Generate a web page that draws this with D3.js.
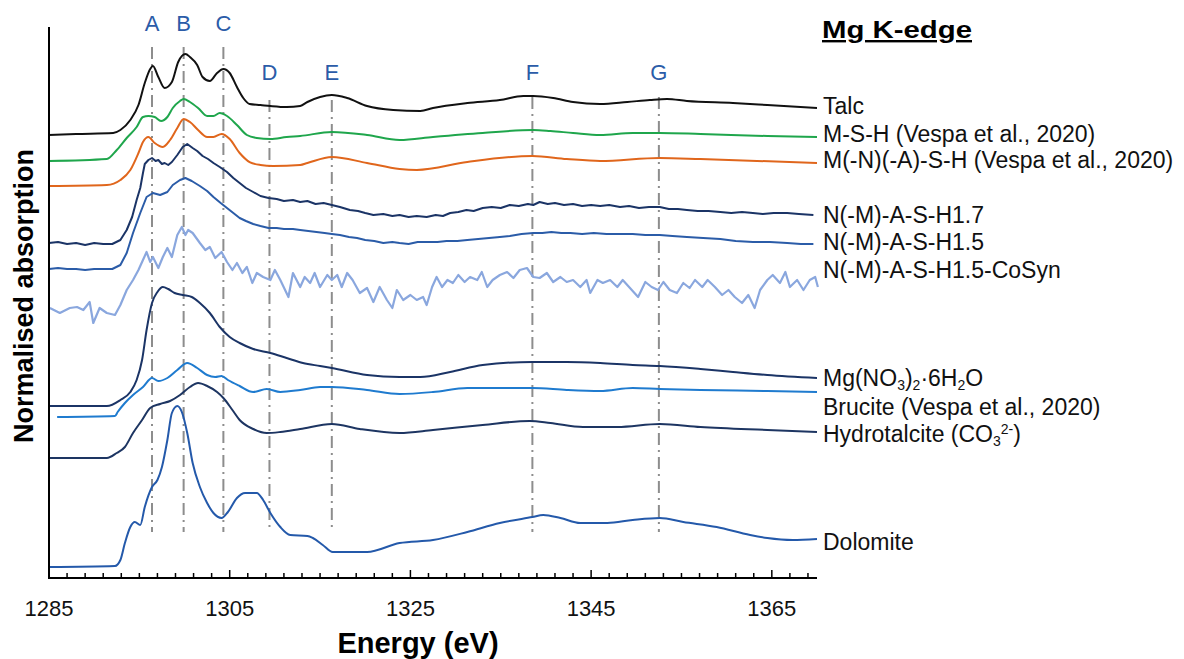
<!DOCTYPE html>
<html><head><meta charset="utf-8">
<script src="https://cdn.jsdelivr.net/npm/d3@7"></script>
<style>body{margin:0;background:#fff}</style>
</head><body>
<svg id="chart" width="1184" height="659"></svg>
<script>
// ---------- DATA (energy eV, normalised absorption incl. stacking offset) ----------
const seriesNames = ["Talc","M-S-H (Vespa et al., 2020)","M(-N)(-A)-S-H (Vespa et al., 2020)","N(-M)-A-S-H1.7","N(-M)-A-S-H1.5","N(-M)-A-S-H1.5-CoSyn","Mg(NO_3)_2·6H_2O","Brucite (Vespa et al., 2020)","Hydrotalcite (CO_3^{2-})","Dolomite"];

const talc = [[1285,4.43],[1288,4.44],[1292.1,4.45],[1292.9,4.48],[1294.0,4.58],[1294.9,4.73],[1295.6,4.95],[1296.2,5.09],[1296.5,5.12],[1297.1,5.01],[1297.8,4.90],[1298.6,4.96],[1299.3,5.16],[1300.1,5.24],[1300.6,5.21],[1301.4,5.13],[1302.0,5.01],[1302.8,4.97],[1303.6,5.05],[1304.3,5.09],[1305.0,5.05],[1305.8,4.91],[1306.5,4.80],[1307.2,4.74],[1308.4,4.73],[1309.5,4.72],[1311.3,4.71],[1312.8,4.72],[1313.6,4.76],[1315.0,4.81],[1316.3,4.83],[1318.0,4.80],[1320.2,4.72],[1323.1,4.68],[1326.1,4.67],[1327.5,4.70],[1331.3,4.75],[1334.9,4.78],[1337.5,4.82],[1338.6,4.82],[1340.8,4.80],[1343.0,4.76],[1346.0,4.74],[1349.0,4.76],[1351.5,4.78],[1353.4,4.79],[1355.6,4.77],[1360.7,4.75],[1364.5,4.73],[1370.0,4.70]];

const msh = [[1285,4.17],[1291.4,4.19],[1292.5,4.28],[1293.6,4.40],[1294.7,4.51],[1295.4,4.61],[1296.0,4.62],[1296.7,4.61],[1297.4,4.57],[1298.1,4.61],[1298.7,4.70],[1299.5,4.77],[1299.9,4.79],[1300.6,4.76],[1301.5,4.70],[1302.5,4.62],[1303.2,4.62],[1303.9,4.65],[1304.7,4.62],[1305.8,4.53],[1306.9,4.43],[1308.0,4.40],[1309.5,4.39],[1311.3,4.41],[1312.8,4.42],[1316.3,4.46],[1320.2,4.43],[1323.8,4.38],[1327.5,4.41],[1333.0,4.45],[1338.6,4.48],[1340.5,4.47],[1343.0,4.45],[1346.0,4.43],[1349.6,4.45],[1352.6,4.45],[1357.1,4.44],[1364.5,4.42],[1370.0,4.41]];

const mnash = [[1285,3.92],[1291.4,3.93],[1292.9,3.98],[1294.0,4.08],[1294.9,4.25],[1295.4,4.36],[1296.0,4.41],[1296.7,4.35],[1297.6,4.31],[1298.4,4.38],[1299.2,4.50],[1299.9,4.59],[1300.6,4.56],[1301.5,4.48],[1302.5,4.41],[1303.2,4.41],[1304.1,4.44],[1305.0,4.39],[1306.1,4.25],[1307.2,4.16],[1308.4,4.13],[1309.8,4.12],[1312.8,4.13],[1313.6,4.15],[1316.3,4.21],[1320.2,4.15],[1323.8,4.09],[1325.7,4.08],[1331.3,4.16],[1338.5,4.22],[1342.3,4.19],[1346.0,4.17],[1352.6,4.20],[1357.1,4.19],[1370.0,4.15]];

const nash17 = [[1285,3.35],[1286,3.36],[1287,3.34],[1288,3.35],[1289,3.33],[1290,3.35],[1291,3.34],[1292,3.34],[1292.9,3.38],[1293.6,3.48],[1294.2,3.61],[1294.7,3.78],[1295.1,3.90],[1295.4,4.05],[1295.6,4.14],[1296,4.18],[1296.4,4.20],[1296.8,4.17],[1297.1,4.18],[1297.5,4.14],[1297.8,4.15],[1298.2,4.13],[1298.6,4.16],[1299.2,4.23],[1299.8,4.31],[1300.3,4.34],[1300.9,4.30],[1301.4,4.27],[1302,4.22],[1302.6,4.19],[1303.2,4.15],[1303.9,4.11],[1304.7,4.06],[1305.4,4.00],[1306.1,3.95],[1306.8,3.90],[1307.6,3.86],[1308.4,3.82],[1309.3,3.80],[1310.2,3.79],[1311,3.77],[1312,3.78],[1312.8,3.76],[1313.6,3.77],[1314.5,3.74],[1315.4,3.75],[1316.3,3.73],[1317.2,3.71],[1318.3,3.68],[1319.2,3.67],[1320,3.65],[1320.9,3.63],[1322,3.64],[1323,3.62],[1323.8,3.63],[1324.8,3.61],[1325.7,3.62],[1326.8,3.61],[1327.8,3.63],[1328.6,3.62],[1329.4,3.65],[1330.3,3.66],[1331.2,3.68],[1332,3.67],[1333,3.70],[1334,3.71],[1335,3.70],[1336,3.73],[1337,3.72],[1338,3.74],[1338.6,3.73],[1339.3,3.76],[1340.2,3.74],[1341,3.75],[1342,3.73],[1343,3.74],[1344,3.72],[1345,3.73],[1346,3.72],[1347,3.73],[1348.2,3.71],[1349.2,3.72],[1350.3,3.70],[1351.4,3.71],[1352.6,3.71],[1353.6,3.69],[1354.6,3.69],[1355.6,3.68],[1356.8,3.67],[1358,3.67],[1359.3,3.66],[1360.5,3.65],[1361.7,3.66],[1362.9,3.65],[1364,3.64],[1365.2,3.65],[1366.7,3.65],[1368,3.64],[1369.6,3.63]];

const nash15 = [[1285,3.09],[1286,3.10],[1287,3.09],[1288,3.09],[1289,3.08],[1290,3.09],[1291,3.09],[1292,3.09],[1292.9,3.13],[1293.6,3.25],[1294.3,3.45],[1295.1,3.65],[1295.8,3.81],[1296.5,3.85],[1297.3,3.83],[1298.1,3.86],[1298.7,3.93],[1299.5,3.98],[1300.1,4.00],[1300.8,3.97],[1301.7,3.92],[1302.5,3.87],[1303.2,3.81],[1304,3.75],[1304.7,3.70],[1305.4,3.65],[1306.1,3.60],[1306.8,3.57],[1307.6,3.54],[1308.4,3.52],[1309.3,3.50],[1310.2,3.50],[1311,3.49],[1312,3.49],[1312.8,3.48],[1313.7,3.47],[1314.6,3.46],[1315.5,3.45],[1316.3,3.44],[1317.2,3.43],[1318.2,3.41],[1319.1,3.40],[1320,3.38],[1321,3.37],[1322,3.35],[1323,3.36],[1323.8,3.35],[1324.8,3.34],[1325.8,3.36],[1326.8,3.36],[1328,3.36],[1329,3.37],[1330.2,3.37],[1331.3,3.38],[1332.5,3.39],[1333.7,3.40],[1334.9,3.41],[1336,3.42],[1337.3,3.44],[1338.6,3.45],[1339.6,3.45],[1340.6,3.46],[1341.7,3.45],[1342.7,3.45],[1344,3.44],[1345.3,3.45],[1346.7,3.44],[1348.2,3.44],[1349.6,3.44],[1351,3.43],[1352.6,3.43],[1354,3.42],[1355.6,3.41],[1357.4,3.40],[1359.3,3.39],[1361,3.37],[1362.9,3.36],[1364.8,3.36],[1366.7,3.35],[1368.2,3.34],[1369.6,3.34]];

const cosyn = [[1285.1,2.70],[1286.2,2.65],[1287.3,2.70],[1288.1,2.71],[1288.8,2.68],[1289.5,2.76],[1289.9,2.55],[1290.6,2.70],[1291.4,2.65],[1292.3,2.63],[1292.9,2.73],[1293.6,2.88],[1294.3,2.98],[1294.9,3.08],[1295.4,3.18],[1295.8,3.26],[1296.2,3.16],[1296.5,3.21],[1297.1,3.10],[1297.6,3.21],[1298.1,3.30],[1298.6,3.21],[1299.2,3.43],[1299.7,3.51],[1300.1,3.43],[1300.4,3.48],[1300.9,3.45],[1301.7,3.35],[1302.3,3.28],[1302.8,3.31],[1303.4,3.20],[1304.1,3.26],[1304.7,3.16],[1305.3,3.08],[1305.8,3.15],[1306.4,3.05],[1306.9,3.11],[1307.5,2.95],[1308.0,3.05],[1308.7,3.01],[1309.5,2.98],[1310.0,3.08],[1310.6,2.98],[1311.5,2.81],[1312.0,3.05],[1312.8,2.91],[1313.3,3.01],[1313.9,2.95],[1314.4,3.05],[1315.0,2.91],[1315.8,3.03],[1316.3,2.98],[1316.9,3.03],[1317.4,2.91],[1318.0,3.05],[1318.6,2.98],[1319.4,2.85],[1320.2,2.90],[1320.9,2.76],[1321.6,2.91],[1322.4,2.78],[1323.0,2.70],[1323.5,2.88],[1324.2,2.78],[1325.0,2.83],[1325.7,2.78],[1326.4,2.81],[1326.8,2.73],[1327.4,2.91],[1327.9,3.01],[1328.5,2.91],[1329.1,2.98],[1329.7,2.95],[1330.3,3.03],[1331.0,2.96],[1331.6,3.01],[1332.4,2.98],[1332.9,3.06],[1333.5,2.91],[1334.1,2.98],[1334.9,3.03],[1335.7,3.06],[1336.4,3.00],[1337.1,3.08],[1337.9,3.10],[1338.6,3.01],[1339.3,3.00],[1340.1,3.05],[1340.8,2.96],[1341.6,3.01],[1342.3,2.96],[1343.0,2.98],[1343.8,2.91],[1344.5,2.98],[1344.9,2.85],[1345.7,2.98],[1346.3,2.95],[1347.1,2.98],[1347.9,2.91],[1348.5,2.98],[1349.3,2.90],[1350.2,2.81],[1351.0,2.96],[1351.7,2.91],[1352.4,2.88],[1353.0,2.96],[1353.7,2.88],[1354.5,2.85],[1355.2,2.95],[1355.9,2.90],[1356.5,2.98],[1357.3,2.91],[1357.9,2.98],[1358.7,2.91],[1359.5,2.83],[1360.2,2.88],[1360.9,2.81],[1361.7,2.75],[1362.4,2.83],[1363.1,2.70],[1363.7,2.88],[1364.5,2.98],[1365.1,3.03],[1365.9,2.95],[1366.5,3.06],[1367.0,2.91],[1367.8,2.98],[1368.5,2.88],[1369.2,2.98],[1369.8,3.01],[1370.1,2.91]];

const mgNitrate = [[1285,1.72],[1291.4,1.72],[1292.9,1.78],[1294.0,1.86],[1294.7,1.98],[1295.3,2.18],[1295.8,2.48],[1296.4,2.75],[1297.0,2.86],[1297.6,2.91],[1298.2,2.89],[1298.9,2.85],[1299.8,2.83],[1300.8,2.81],[1301.7,2.75],[1302.8,2.65],[1303.9,2.51],[1305.0,2.41],[1306.1,2.35],[1307.6,2.29],[1309.5,2.25],[1311.3,2.20],[1313.1,2.15],[1315.0,2.12],[1316.3,2.10],[1320.2,2.03],[1323.8,2.01],[1326.1,2.01],[1329.4,2.06],[1333.0,2.13],[1338.5,2.16],[1342.3,2.16],[1346.0,2.15],[1349.6,2.13],[1352.6,2.12],[1357.1,2.09],[1360.7,2.06],[1364.5,2.03],[1370.0,2.00]];

const brucite = [[1285.9,1.61],[1292.3,1.62],[1292.6,1.66],[1293.4,1.75],[1294.3,1.83],[1295.4,1.91],[1296.4,2.00],[1297.1,1.97],[1298.1,2.00],[1299.2,2.08],[1300.3,2.15],[1301.4,2.10],[1302.5,2.03],[1303.4,2.01],[1304.1,2.02],[1304.8,1.98],[1306.1,1.92],[1307.6,1.86],[1309.1,1.89],[1310.6,1.86],[1312.8,1.88],[1315.0,1.91],[1316.3,1.91],[1320.2,1.88],[1323.8,1.84],[1327.5,1.86],[1331.3,1.90],[1338.5,1.90],[1342.3,1.88],[1346.0,1.87],[1349.6,1.90],[1352.6,1.89],[1357.1,1.88],[1364.5,1.87],[1370.0,1.86]];

const hydrotalcite = [[1285,1.20],[1291.4,1.20],[1292.5,1.25],[1293.4,1.31],[1294.3,1.45],[1295.3,1.58],[1296.2,1.70],[1297.3,1.74],[1298.4,1.77],[1299.5,1.83],[1300.6,1.91],[1301.5,1.95],[1302.5,1.92],[1303.6,1.86],[1304.3,1.80],[1305.3,1.68],[1306.1,1.58],[1307.6,1.49],[1309.1,1.45],[1310.6,1.46],[1312.8,1.49],[1316.3,1.54],[1319.4,1.49],[1323.8,1.45],[1327.5,1.48],[1333.0,1.53],[1338.2,1.57],[1340.5,1.55],[1344.1,1.51],[1347.9,1.51],[1352.6,1.54],[1357.1,1.51],[1364.5,1.48],[1370.0,1.46]];

const dolomite = [[1285,0.11],[1292.3,0.12],[1292.9,0.18],[1293.4,0.35],[1294.0,0.51],[1294.5,0.56],[1295.1,0.53],[1295.6,0.71],[1296.4,0.91],[1297.0,0.98],[1297.5,1.11],[1298.1,1.38],[1298.6,1.65],[1299.2,1.72],[1299.7,1.66],[1300.3,1.45],[1300.9,1.15],[1301.7,0.91],[1302.5,0.75],[1303.2,0.65],[1304.1,0.60],[1304.8,0.66],[1305.8,0.80],[1306.7,0.85],[1308.0,0.85],[1308.7,0.78],[1309.5,0.65],[1310.6,0.51],[1311.7,0.43],[1313.6,0.42],[1314.2,0.40],[1315.3,0.33],[1316.4,0.26],[1320.2,0.26],[1323.8,0.35],[1327.5,0.38],[1331.3,0.46],[1334.9,0.55],[1338.5,0.61],[1339.7,0.63],[1341.6,0.60],[1343.8,0.55],[1346.8,0.55],[1349.6,0.58],[1352.6,0.60],[1355.2,0.56],[1358.9,0.51],[1362.6,0.43],[1364.5,0.40],[1367.3,0.38],[1370.0,0.39]];

const featureLabels = ["A","B","C","D","E","F","G"];
const featureEnergies = [1296.4, 1299.9, 1304.3, 1309.4, 1316.3, 1338.5, 1352.5];
const xTickLabels = [1285, 1305, 1325, 1345, 1365];

// ---------- STYLE / LAYOUT ----------
const seriesData = [talc, msh, mnash, nash17, nash15, cosyn, mgNitrate, brucite, hydrotalcite, dolomite];
const colors = ["#111111","#1fa64c","#e0661c","#1b3466","#2b5ca8","#8aa7de","#1b3466","#1f7bcf","#1d3562","#2459aa"];
const noisy = [false,false,false,true,true,true,false,false,false,false];
const labelBaseline = [114, 141.5, 168, 222.5, 250, 277.5, 386, 415, 441.5, 550];
const featureRow = [0,0,0,1,1,1,1];
const featureTop = [5.31,5.31,5.31,4.78,4.78,4.81,4.81];

const svg = d3.select("#chart");
const x = d3.scaleLinear().domain([1285, 1370]).range([49, 817]);
const y = d3.scaleLinear().domain([0, 5.51]).range([578, 27]);
const FONT = "'Liberation Sans', Arial, Helvetica, sans-serif";

// feature dash-dot lines
featureEnergies.forEach((e, i) => {
  svg.append("line")
    .attr("x1", x(e)).attr("x2", x(e))
    .attr("y1", y(featureTop[i])).attr("y2", y(0.46))
    .attr("stroke", "#8d8d8d").attr("stroke-width", 2)
    .attr("stroke-dasharray", "12,5,2,5");
  svg.append("text")
    .attr("x", x(e)).attr("y", featureRow[i] === 0 ? 31 : 80)
    .attr("text-anchor", "middle")
    .attr("font-family", FONT).attr("font-size", 22)
    .attr("fill", "#2b5ca8")
    .text(featureLabels[i]);
});

// series lines
seriesData.forEach((d, i) => {
  const line = d3.line()
    .x(p => x(p[0])).y(p => y(p[1]))
    .curve(noisy[i] ? d3.curveLinear : d3.curveMonotoneX);
  svg.append("path")
    .datum(d)
    .attr("d", line)
    .attr("fill", "none")
    .attr("stroke", colors[i])
    .attr("stroke-width", i === 5 ? 2.2 : 2)
    .attr("stroke-linejoin", "round");
});

// axes
svg.append("line").attr("x1", 49).attr("x2", 49).attr("y1", 27).attr("y2", 579)
  .attr("stroke", "#000").attr("stroke-width", 2);
svg.append("line").attr("x1", 48).attr("x2", x(1370)).attr("y1", 578).attr("y2", 578)
  .attr("stroke", "#000").attr("stroke-width", 2);
d3.range(1285, 1370, 2).forEach(t => {
  const major = (t - 1285) % 20 === 0;
  svg.append("line").attr("x1", x(t)).attr("x2", x(t))
    .attr("y1", 578).attr("y2", 578 - (major ? 8 : 5))
    .attr("stroke", "#000").attr("stroke-width", 1.5);
});
xTickLabels.forEach(t => {
  svg.append("text").attr("x", x(t)).attr("y", 616)
    .attr("text-anchor", "middle").attr("font-family", FONT).attr("font-size", 22)
    .attr("fill", "#111").text(t);
});

// axis titles
svg.append("text").attr("x", 418).attr("y", 653)
  .attr("text-anchor", "middle").attr("font-family", FONT).attr("font-size", 29)
  .attr("font-weight", "bold").attr("fill", "#000").text("Energy (eV)");
svg.append("text").attr("transform", "translate(33,296) rotate(-90)")
  .attr("text-anchor", "middle").attr("font-family", FONT).attr("font-size", 27)
  .attr("font-weight", "bold").attr("fill", "#000").text("Normalised absorption");

// title
svg.append("text").attr("x", 822).attr("y", 38)
  .attr("font-family", FONT).attr("font-size", 24).attr("font-weight", "bold")
  .attr("fill", "#000").attr("text-decoration", "underline")
  .attr("textLength", 150).attr("lengthAdjust", "spacingAndGlyphs")
  .text("Mg K-edge");

// series labels with sub/superscripts
function addRich(textSel, s) {
  let i = 0, shift = 0;
  const push = (str, mode) => {
    let dy = 0, fs = null;
    if (mode === "sub") { dy = 4 - shift; shift = 4; fs = 14; }
    else if (mode === "sup") { dy = -8 - shift; shift = -8; fs = 14; }
    else { dy = -shift; shift = 0; }
    const ts = textSel.append("tspan").attr("dy", dy).text(str);
    if (fs) ts.attr("font-size", fs);
  };
  let buf = "";
  while (i < s.length) {
    const c = s[i];
    if (c === "_" || c === "^") {
      if (buf) { push(buf, "n"); buf = ""; }
      let content;
      if (s[i + 1] === "{") { const j = s.indexOf("}", i); content = s.slice(i + 2, j); i = j + 1; }
      else { content = s[i + 1]; i += 2; }
      push(content, c === "_" ? "sub" : "sup");
    } else { buf += c; i++; }
  }
  if (buf) push(buf, "n");
}
seriesNames.forEach((n, i) => {
  const t = svg.append("text").attr("x", 823).attr("y", labelBaseline[i])
    .attr("font-family", FONT).attr("font-size", 23).attr("fill", "#111");
  addRich(t, n);
});
</script>
</body></html>
